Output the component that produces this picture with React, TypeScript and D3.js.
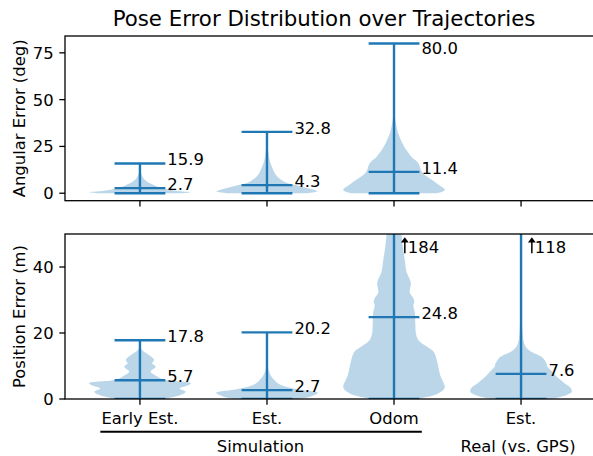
import React from "react";
import * as d3 from "d3";

// ---------- data ----------
const categories = ["Early Est.", "Est.", "Odom", "Est."];
const groups = [
  { label: "Simulation", from: 0, to: 2 },
  { label: "Real (vs. GPS)", from: 3, to: 3 },
];
const title = "Pose Error Distribution over Trajectories";
const angLabel = "Angular Error (deg)";
const posLabel = "Position Error (m)";

const angTicks = [0, 25, 50, 75];
const posTicks = [0, 20, 40];

const angMins = [0, 0, 0];
const angMedians = [2.7, 4.3, 11.4];
const angMaxes = [15.9, 32.8, 80.0];

const posMins = [0, 0, 0, 0];
const posMedians = [5.7, 2.7, 24.8, 7.6];
const posMaxes = [17.8, 20.2, 184, 118];

// violin density profiles: [value, relative half-width]
const angProfiles: number[][][] = [
  [[0, 0.85], [0.5, 1.0], [1, 0.8], [2, 0.55], [3, 0.4], [4, 0.3], [5, 0.22], [6, 0.15], [7, 0.1], [8, 0.07], [10, 0.03], [12, 0.015], [15.9, 0.005]],
  [[0, 0.8], [1, 1.0], [2, 0.9], [3, 0.75], [4, 0.62], [5, 0.45], [6, 0.35], [8, 0.24], [10, 0.17], [12, 0.13], [14, 0.1], [16, 0.07], [18, 0.05], [21, 0.03], [25, 0.015], [32.8, 0.005]],
  [[0, 0.85], [1, 0.97], [2, 1.0], [3, 0.96], [5, 0.85], [7, 0.75], [9, 0.64], [11, 0.56], [13, 0.52], [15, 0.5], [17, 0.45], [19, 0.36], [21, 0.3], [24, 0.22], [27, 0.16], [30, 0.11], [33, 0.07], [36, 0.045], [40, 0.02], [45, 0.01], [55, 0.005], [80, 0.003]],
];
const posProfiles: number[][][] = [
  [[0, 0.47], [1.2, 0.8], [2.2, 0.9], [3.2, 0.78], [4.2, 0.95], [4.8, 1.0], [5.8, 0.47], [6.8, 0.34], [8.3, 0.21], [9.8, 0.31], [10.8, 0.24], [11.8, 0.28], [13.3, 0.18], [14.3, 0.08], [15.3, 0.02], [17.8, 0.005]],
  [[0, 0.6], [0.7, 0.85], [1.9, 1.0], [2.8, 0.65], [3.7, 0.37], [4.7, 0.22], [5.7, 0.15], [7, 0.08], [8.7, 0.03], [11, 0.015], [15, 0.008], [20.2, 0.004]],
  [[0, 0.45], [1, 0.75], [1.7, 0.87], [2.7, 0.97], [3.7, 1.0], [7.2, 0.91], [11.3, 0.85], [14.3, 0.78], [15.8, 0.65], [17.8, 0.48], [20, 0.43], [22.3, 0.42], [26.3, 0.41], [28.3, 0.38], [29.5, 0.4], [30.8, 0.37], [32.3, 0.31], [35.3, 0.33], [38.3, 0.25], [42.3, 0.21], [46.4, 0.17], [49.4, 0.15], [55, 0.12], [70, 0.06], [100, 0.03], [140, 0.015], [184, 0.005]],
  [[0, 0.6], [1.2, 0.9], [2.2, 1.0], [3.5, 0.97], [4.7, 0.86], [6.8, 0.7], [8.5, 0.6], [9.8, 0.52], [10.8, 0.5], [12.3, 0.44], [13.3, 0.34], [14.3, 0.2], [15.3, 0.12], [16.9, 0.06], [20, 0.03], [30, 0.015], [60, 0.008], [118, 0.004]],
];

// ---------- layout ----------
const W = 593, H = 456;
const LEFT = 65, RIGHT = 596;
const TOP1 = 36, BOT1 = 200.7;
const TOP2 = 234, BOT2 = 399;
const BLUE = "#1f77b4";
const FONT = "DejaVu Sans, sans-serif";
const FS = 16.4;
const LW = 2.4;
const VIOLIN_W = 0.8;

const x = d3.scaleLinear().domain([0.41, 4.59]).range([LEFT, RIGHT]);
const yAng = d3.scaleLinear().domain([-4, 84]).range([BOT1, TOP1]);
const yPos = d3.scaleLinear().domain([0, 50]).range([BOT2, TOP2]);

function Violins({ profiles, mins, medians, maxes, y, top }: any) {
  const hwUnit = x(1 + VIOLIN_W / 2) - x(1);
  const capHalf = x(1 + VIOLIN_W / 4) - x(1);
  const yMaxDomain = y.domain()[1];
  return (
    <g>
      {profiles.map((prof: number[][], i: number) => {
        const cx = x(i + 1);
        const area = d3
          .area<number[]>()
          .x0((d) => cx - d[1] * hwUnit)
          .x1((d) => cx + d[1] * hwUnit)
          .y((d) => y(d[0]))
          .curve(d3.curveCatmullRom.alpha(0.5));
        return <path key={"v" + i} d={area(prof) || ""} fill={BLUE} fillOpacity={0.3} stroke="none" />;
      })}
      {profiles.map((_: any, i: number) => {
        const cx = x(i + 1);
        const ends = [mins[i], medians[i], maxes[i]];
        return (
          <g key={"l" + i} stroke={BLUE} strokeWidth={LW}>
            <line x1={cx} x2={cx} y1={y(mins[i])} y2={y(maxes[i])} />
            {ends.map((v: number, k: number) => (
              <line key={k} x1={cx - capHalf} x2={cx + capHalf} y1={y(v)} y2={y(v)} />
            ))}
          </g>
        );
      })}
      {profiles.map((_: any, i: number) => {
        const cx = x(i + 1);
        const out: any[] = [];
        [medians[i], maxes[i]].forEach((v: number, k: number) => {
          if (v > yMaxDomain) {
            const ax = cx + 10.8;
            const base = top + 19.3;
            out.push(
              <g key={"a" + k}>
                <line x1={ax} x2={ax} y1={base} y2={top + 8} stroke="#000" strokeWidth={1.5} />
                <path d={`M${ax},${top + 3.2} L${ax - 3.9},${top + 8.6} L${ax + 3.9},${top + 8.6} Z`} fill="#000" />
                <text x={cx + 13.8} y={base} fontSize={FS} fontFamily={FONT} fill="#000">
                  {String(Math.round(v))}
                </text>
              </g>
            );
          } else {
            const base = Math.max(y(v) + 2, top + 17.5);
            out.push(
              <text key={"t" + k} x={cx + capHalf + 2} y={base} fontSize={FS} fontFamily={FONT} fill="#000">
                {v.toFixed(1)}
              </text>
            );
          }
        });
        return <g key={"t" + i}>{out}</g>;
      })}
    </g>
  );
}

function YAxis({ y, ticks, top, bot, label }: any) {
  return (
    <g>
      {ticks.map((t: number) => (
        <g key={t}>
          <line x1={LEFT - 5.7} x2={LEFT} y1={y(t)} y2={y(t)} stroke="#000" strokeWidth={1.3} />
          <text x={LEFT - 11.4} y={y(t) + 6} textAnchor="end" fontSize={FS} fontFamily={FONT} fill="#000">
            {t}
          </text>
        </g>
      ))}
      <text
        transform={`translate(24.5,${(top + bot) / 2}) rotate(-90)`}
        textAnchor="middle"
        fontSize={FS}
        fontFamily={FONT}
        fill="#000"
      >
        {label}
      </text>
    </g>
  );
}

function Frame({ top, bot }: any) {
  return (
    <g fill="none" stroke="#000" strokeWidth={1.3}>
      <rect x={LEFT} y={top} width={RIGHT - LEFT} height={bot - top} />
      {categories.map((_, i) => (
        <line key={i} x1={x(i + 1)} x2={x(i + 1)} y1={bot} y2={bot + 5.7} />
      ))}
    </g>
  );
}

export default function App() {
  return (
    <svg width={W} height={H} style={{ position: "absolute", left: 0, top: 0, background: "#fff" }}>
      <defs>
        <clipPath id="clip1">
          <rect x={LEFT} y={TOP1} width={RIGHT - LEFT} height={BOT1 - TOP1} />
        </clipPath>
        <clipPath id="clip2">
          <rect x={LEFT} y={TOP2} width={RIGHT - LEFT} height={BOT2 - TOP2} />
        </clipPath>
      </defs>
      <rect x={0} y={0} width={W} height={H} fill="#fff" />
      <text x={324} y={26} textAnchor="middle" fontSize={21.3} fontFamily={FONT} fill="#000">
        {title}
      </text>

      <g clipPath="url(#clip1)">
        <Violins profiles={angProfiles} mins={angMins} medians={angMedians} maxes={angMaxes} y={yAng} top={TOP1} />
      </g>
      <Frame top={TOP1} bot={BOT1} />
      <YAxis y={yAng} ticks={angTicks} top={TOP1} bot={BOT1} label={angLabel} />

      <g clipPath="url(#clip2)">
        <Violins profiles={posProfiles} mins={posMins} medians={posMedians} maxes={posMaxes} y={yPos} top={TOP2} />
      </g>
      <Frame top={TOP2} bot={BOT2} />
      <YAxis y={yPos} ticks={posTicks} top={TOP2} bot={BOT2} label={posLabel} />

      {categories.map((c, i) => (
        <text key={i} x={x(i + 1)} y={424.3} textAnchor="middle" fontSize={FS} fontFamily={FONT} fill="#000">
          {c}
        </text>
      ))}
      {groups.map((g, i) => {
        const cx = (x(g.from + 1) + x(g.to + 1)) / 2;
        return (
          <g key={i}>
            {g.to > g.from && (
              <line x1={x(g.from + 1) - 39.6} x2={x(g.to + 1) + 27.8} y1={431.7} y2={431.7} stroke="#000" strokeWidth={2} />
            )}
            <text x={g.to > g.from ? cx - 6.5 : cx - 3} y={451.7} textAnchor="middle" fontSize={FS} fontFamily={FONT} fill="#000">
              {g.label}
            </text>
          </g>
        );
      })}
    </svg>
  );
}
